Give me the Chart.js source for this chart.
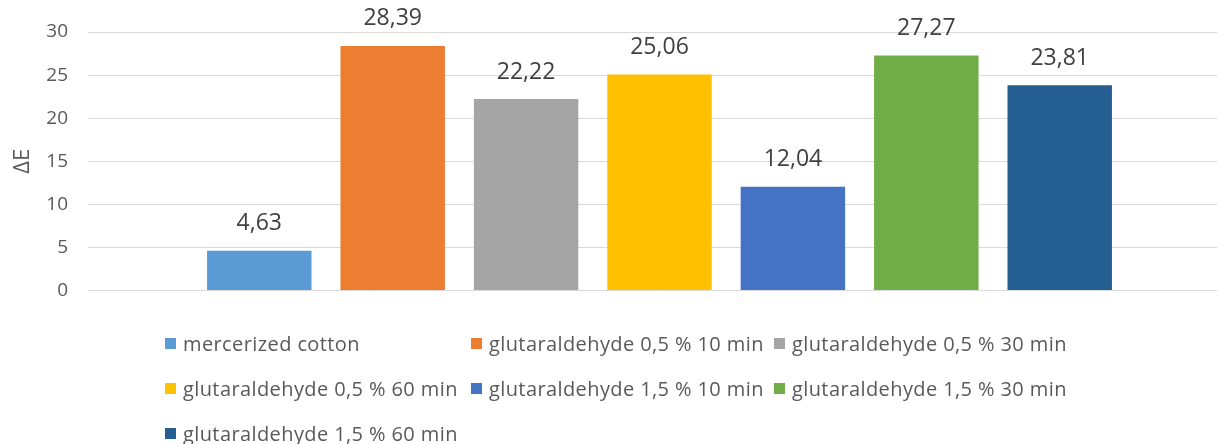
<!DOCTYPE html>
<html>
<head>
<meta charset="utf-8">
<script src="https://cdn.jsdelivr.net/npm/chart.js@4.4.1/dist/chart.umd.min.js"></script>
<style>
  body { margin: 0; background: #fff; overflow: hidden; width: 1217px; height: 444px; position: relative; font-family: "Open Sans", sans-serif; }
  #chart { position: absolute; left: 0; top: 0; }
  #legend { position: absolute; left: 165px; top: 321px; display: grid; grid-template-columns: 306px 303px auto; grid-auto-rows: 45px; }
  .item { display: flex; align-items: center; font-size: 20px; letter-spacing: 0.4px; color: #595959; white-space: nowrap; }
  .box { width: 11px; height: 11px; margin-right: 7px; }
</style>
</head>
<body>
<canvas id="chart" width="1232" height="322"></canvas>
<div id="legend"></div>
<script>
const series = [
  'mercerized cotton',
  'glutaraldehyde 0,5 % 10 min',
  'glutaraldehyde 0,5 % 30 min',
  'glutaraldehyde 0,5 % 60 min',
  'glutaraldehyde 1,5 % 10 min',
  'glutaraldehyde 1,5 % 30 min',
  'glutaraldehyde 1,5 % 60 min'
];
const values = [4.63, 28.39, 22.22, 25.06, 12.04, 27.27, 23.81];
const colors = ['#5B9BD5', '#ED7D31', '#A5A5A5', '#FFC000', '#4472C4', '#70AD47', '#255E91'];
const yTicks = [0, 5, 10, 15, 20, 25, 30];

// value labels above each bar, decimal comma
const valueLabels = {
  id: 'valueLabels',
  afterDatasetsDraw(chart) {
    const ctx = chart.ctx;
    ctx.save();
    ctx.font = '23px "Open Sans"';
    ctx.fillStyle = '#404040';
    ctx.textAlign = 'center';
    ctx.textBaseline = 'middle';
    chart.data.datasets.forEach((ds, i) => {
      const bar = chart.getDatasetMeta(i).data[0];
      ctx.fillText(ds.data[0].toFixed(2).replace('.', ','), bar.x, bar.y - 27);
    });
    ctx.restore();
  }
};

const ctx = document.getElementById('chart').getContext('2d');
const chart = new Chart(ctx, {
  type: 'bar',
  data: {
    labels: [''],
    datasets: series.map((name, i) => ({
      label: name,
      data: [values[i]],
      backgroundColor: colors[i],
      categoryPercentage: 0.817,
      barPercentage: 0.783
    }))
  },
  options: {
    responsive: false,
    animation: false,
    layout: { padding: { top: 32, bottom: 9, left: 0, right: 1 } },
    plugins: { legend: { display: false }, tooltip: { enabled: false } },
    scales: {
      x: { display: false },
      y: {
        min: 0,
        max: 30,
        afterBuildTicks: (scale) => { scale.ticks = yTicks.map(v => ({ value: v })); },
        afterFit: (scale) => { scale.width = 88; },
        ticks: { color: '#595959', font: { family: 'Open Sans', size: 19 }, padding: 20 },
        grid: { color: '#d9d9d9', drawTicks: false },
        border: { display: false },
        title: { display: true, text: 'ΔE', color: '#595959', font: { family: 'Open Sans', size: 22 }, padding: { top: 10, bottom: 0 } }
      }
    }
  },
  plugins: [valueLabels]
});

const legend = document.getElementById('legend');
series.forEach((name, i) => {
  const item = document.createElement('div');
  item.className = 'item';
  item.innerHTML = '<span class="box" style="background:' + colors[i] + '"></span>' + name;
  legend.appendChild(item);
});
</script>
</body>
</html>
